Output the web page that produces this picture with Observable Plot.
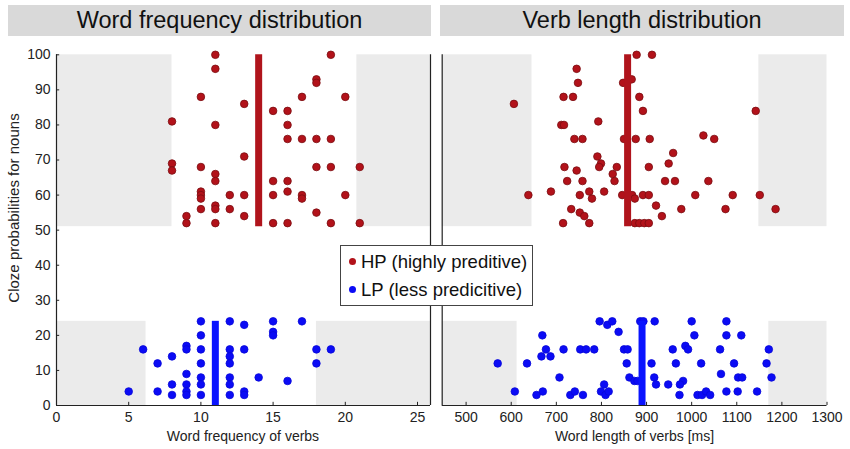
<!DOCTYPE html>
<html><head><meta charset="utf-8">
<script src="https://cdn.jsdelivr.net/npm/d3@7"></script>
<script src="https://cdn.jsdelivr.net/npm/@observablehq/plot@0.6"></script>
<style>
body{margin:0;background:#fff;font-family:"Liberation Sans",Arial,sans-serif;}
#wrap{position:relative;width:850px;height:449px;overflow:hidden;background:#fff;}
.hdr{position:absolute;top:5px;height:31px;background:#d9d9d9;font-size:23.5px;color:#111;text-align:center;line-height:31px;}
.panel{position:absolute;top:40px;height:409px;overflow:hidden;}
.xlab{position:absolute;font-size:14px;color:#222;text-align:center;white-space:nowrap;}
#ylab{position:absolute;left:13px;top:208px;transform:translate(-50%,-50%) rotate(-90deg);font-size:15px;color:#222;white-space:nowrap;}
#legend{position:absolute;left:340px;top:245px;width:191px;height:59px;border:1px solid #444;background:#fff;z-index:5;font-size:18.5px;color:#111;}
#legend div{position:absolute;left:8px;white-space:nowrap;line-height:20px;}
#legend span.dot{display:inline-block;width:7px;height:7px;border-radius:50%;margin-right:5px;vertical-align:3px;}
</style></head>
<body>
<div id="wrap">
  <div class="hdr" style="left:8px;width:423px;">Word frequency distribution</div>
  <div class="hdr" style="left:440px;width:404px;">Verb length distribution</div>
  <div class="panel" id="left" style="left:0;width:432px;"></div>
  <div class="panel" id="right" style="left:432px;width:418px;"></div>
  <div class="xlab" style="left:56px;width:374px;top:428px;">Word frequency of verbs</div>
  <div class="xlab" style="left:441px;width:387px;top:428px;">Word length of verbs [ms]</div>
  <div id="ylab">Cloze probabilities for nouns</div>
  <div id="legend">
    <div style="top:6px;"><span class="dot" style="background:#b2121a"></span>HP (highly preditive)</div>
    <div style="top:34px;"><span class="dot" style="background:#0b0bf5"></span>LP (less predicitive)</div>
  </div>
</div>
<script>
// ---- data ----
const seriesNames = ["HP (highly preditive)", "LP (less predicitive)"];
const yTicks = [0,10,20,30,40,50,60,70,80,90,100];
const freqTicks = [0,5,10,15,20,25];
const lenTicks = [500,600,700,800,900,1000,1100,1200,1300];

// Word frequency (x) vs cloze probability (y)
const freqHP = [[8,81],[8,69],[8,67],[9,54],[9,52],[10,88],[10,68],[10,61],[10,60],[10,59],[10,56],
  [11,100],[11,96],[11,80],[11,66],[11,64],[11,57],[11,56],[11,52],[12,60],[12,56],
  [13,86],[13,71],[13,60],[13,54],[15,84],[15,64],[15,60],[15,52],
  [16,84],[16,80],[16,76],[16,64],[16,61],[16,52],[17,88],[17,76],[17,60],[17,59],
  [18,93],[18,92],[18,76],[18,68],[18,55],[19,100],[19,76],[19,68],[19,52],[20,88],[20,60],[21,68],[21,52]];
const freqLP = [[5,4],[6,16],[7,12],[7,4],[8,14],[8,6],[8,3],[9,17],[9,16],[9,9],[9,6],[9,4],[9,3],
  [10,24],[10,20],[10,16],[10,12],[10,8],[10,6],[10,3],[12,24],[12,16],[12,14],[12,12],[12,8],[12,6],[12,3],
  [13,23],[13,16],[13,4],[13,3],[14,8],[15,24],[15,21],[15,20],[16,7],[17,24],[18,16],[18,12],[19,16]];

// Verb length in ms (x) vs cloze probability (y)
const lenHP = [[878,100],[912,100],[745,96],[748,92],[848,92],[867,93],[716,88],[737,88],[884,88],[606,86],
  [892,84],[1142,84],[711,80],[717,80],[793,81],[740,76],[758,76],[850,76],[876,76],[907,76],[1026,77],[1050,76],
  [959,72],[791,71],[949,69],[799,69],[795,68],[834,68],[718,68],[745,67],[905,68],[825,66],[724,64],[758,64],
  [829,64],[941,64],[963,64],[1037,64],[638,60],[688,61],[752,60],[773,61],[779,59],[806,61],[846,60],[868,60],
  [874,59],[892,60],[905,60],[1008,60],[1091,60],[1151,60],[733,56],[752,55],[762,54],[921,57],[977,56],[1075,56],
  [1186,56],[934,54],[715,52],[773,52],[874,52],[884,52],[895,52],[905,52]];
const lenLP = [[796,24],[813,23],[824,24],[838,21],[886,24],[893,24],[918,24],[1000,24],[1077,24],[669,20],[1006,20],
  [1077,20],[1110,20],[677,16],[716,16],[753,16],[766,16],[784,16],[850,16],[858,16],[958,16],[986,17],[992,16],
  [1063,16],[1171,16],[667,14],[687,14],[570,12],[635,12],[856,12],[911,12],[965,12],[1021,12],[1094,12],[1166,12],
  [707,8],[806,6],[862,8],[873,7],[880,7],[917,8],[921,6],[948,6],[981,7],[974,6],[1065,9],[1103,8],[1112,8],[1177,8],
  [608,4],[670,4],[656,3],[731,3],[741,4],[759,3],[799,4],[809,3],[816,4],[973,3],[1013,3],[1023,3],[1032,4],[1041,3],
  [1077,4],[1102,4],[1145,4]];

// group means (thick vertical bars) and shaded out-of-range bands
const freqMeans = [14, 11];       // HP, LP
const lenMeans = [858, 890];      // HP, LP
const groupYRange = [[51,100],[0,24]]; // HP, LP
const freqDomain = [0, 25.9];
const lenDomain = [447, 1300];
const freqBands = [[[0,8.0],[20.8,25.9]], [[0,6.2],[18.0,25.9]]];   // HP, LP
const lenBands = [[[447,646],[1149,1300]], [[447,613],[1171,1300]]]; // HP, LP

// ---- drawing ----
const colors = {fill: ["#b2121a", "#0b0bf5"], stroke: ["#7a0c10", "#0808d8"], bar: ["#b0141c", "#0a14ff"]};
const font = "Liberation Sans, Arial, sans-serif";

function panel({domain, width, marginLeft, marginRight, series, means, bands, xTicks, showY}) {
  const marks = [];
  series.forEach((s, i) => {
    const rows = bands[i].map(b => ({x1: b[0], x2: b[1], y1: groupYRange[i][0], y2: groupYRange[i][1]}));
    marks.push(Plot.rect(rows, {x1: "x1", x2: "x2", y1: "y1", y2: "y2", fill: "#ebebeb"}));
  });
  series.forEach((s, i) => {
    const pts = s.map(([x, y]) => ({x, y, group: seriesNames[i]}));
    marks.push(Plot.dot(pts, {x: "x", y: "y", r: 3.8, fill: colors.fill[i], stroke: colors.stroke[i], strokeWidth: 0.8}));
  });
  means.forEach((m, i) => {
    marks.push(Plot.ruleX([{x: m, y1: groupYRange[i][0], y2: groupYRange[i][1]}],
      {x: "x", y1: "y1", y2: "y2", stroke: colors.bar[i], strokeWidth: 7}));
  });
  // axis lines and inward ticks
  marks.push(Plot.ruleY([0], {stroke: "#222", strokeWidth: 1}));
  marks.push(Plot.ruleX([domain[0]], {stroke: "#222", strokeWidth: 1.2}));
  if (showY) marks.push(Plot.ruleX([domain[1]], {stroke: "#222", strokeWidth: 1.2}));
  marks.push(Plot.ruleX(xTicks, {x: d => d, y1: 0, y2: 0.9, stroke: "#222"}));
  if (showY) marks.push(Plot.ruleY(yTicks, {y: d => d, x1: domain[0], x2: domain[0] + 0.22, stroke: "#222"}));
  return Plot.plot({
    width, height: 409,
    marginTop: 14.3, marginBottom: 44, marginLeft, marginRight,
    style: {fontSize: "14px", fontFamily: font, color: "#222", background: "transparent"},
    x: {domain, ticks: xTicks, tickFormat: d3.format("d"), tickSize: 0, tickPadding: 7, label: null},
    y: showY ? {domain: [0, 100], ticks: yTicks, tickFormat: d3.format("d"), tickSize: 0, tickPadding: 6, label: null}
             : {domain: [0, 100], axis: null},
    marks
  });
}

document.getElementById("left").append(panel({
  domain: freqDomain, width: 432, marginLeft: 56, marginRight: 2,
  series: [freqHP, freqLP], means: freqMeans, bands: freqBands, xTicks: freqTicks, showY: true
}));
document.getElementById("right").append(panel({
  domain: lenDomain, width: 418, marginLeft: 9.7, marginRight: 23.5,
  series: [lenHP, lenLP], means: lenMeans, bands: lenBands, xTicks: lenTicks, showY: false
}));
</script>
</body></html>
